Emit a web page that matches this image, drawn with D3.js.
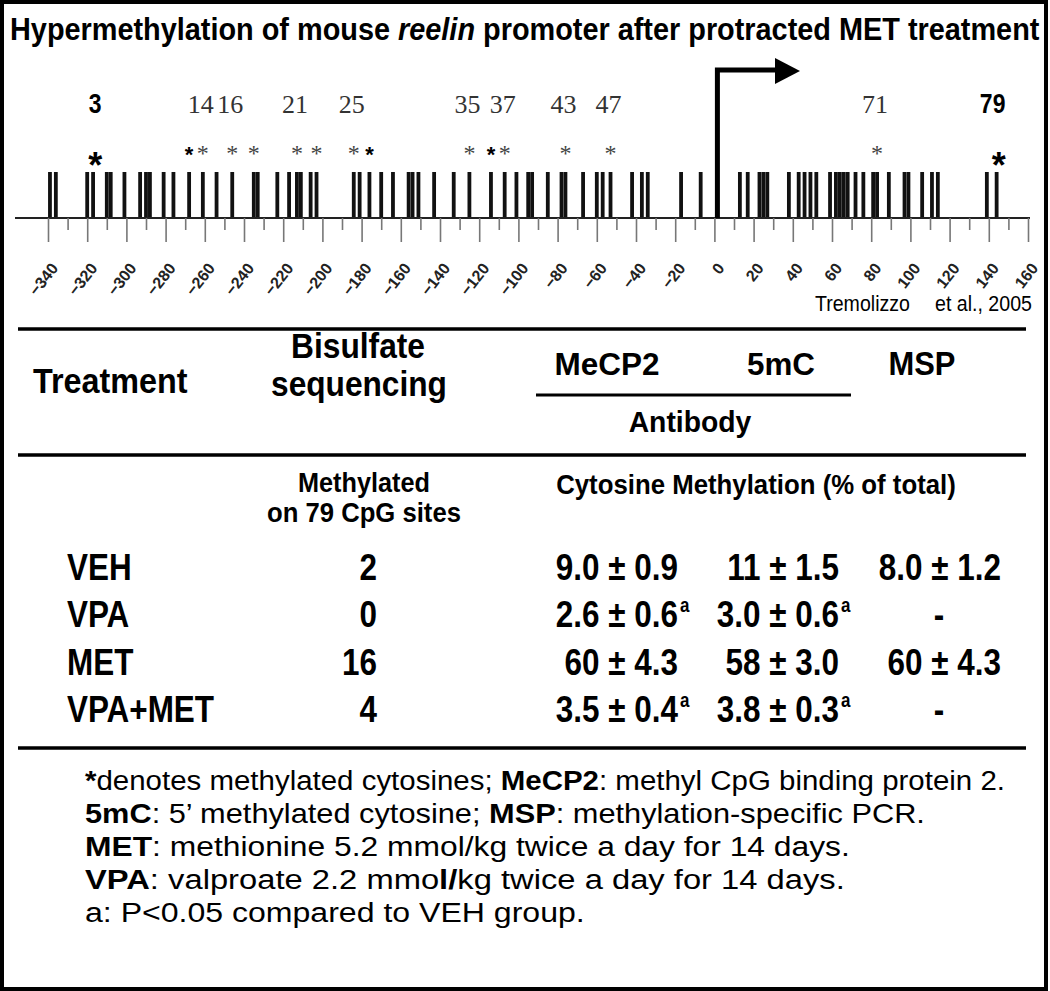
<!DOCTYPE html>
<html>
<head>
<meta charset="utf-8">
<script src="https://cdn.jsdelivr.net/npm/d3@7"></script>
<style>
  html, body { margin: 0; padding: 0; background: #fff; }
  svg { display: block; }
</style>
</head>
<body>
<svg id="fig" width="1050" height="991"></svg>
<script>
// ---------------- DATA ----------------
// CpG site positions (bp relative to transcription start), 79 sites
const cpgSites = [-339,-336,-320,-317,-310,-308,-301,-293,-290,-288,-281,-276,-268,-261,-254,-246,-235,-233,-223,-217,
  -213,-211,-206,-203,-184,-181,-176,-170,-164,-156,-154,-151,-143,-133,-125,-114,-107,-101,-95,-93,
  -85,-78,-76,-67,-60,-57,-53,-42,-37,-34,-17,-7,13,17,23,25,27,38,43,46,
  49,52,59,62,64,66,68,72,76,81,83,89,97,99,106,111,114,139,144];
// methylated CpG sites (site number, 1-based) after MET
const methylatedSites = [3,13,14,16,17,21,24,25,27,35,36,37,43,47,71,79];
const boldStarsLarge = [3,79];
const boldStarsSmall = [13,27,36];
const labelledSites = [3,14,16,21,25,35,37,43,47,71,79];
const boldLabels = [3,79];
const axisMajorTicks = d3.range(-340, 161, 20);
const axisMinorTicks = d3.range(-330, 160, 20);
const tssPosition = 0;

// table
const treatments = ["VEH","VPA","MET","VPA+MET"];
const bisulfiteMethylated = ["2","0","16","4"];
const mecp2Values = ["9.0 ± 0.9","2.6 ± 0.6","60 ± 4.3","3.5 ± 0.4"];
const mecp2Significant = [false,true,false,true];
const fiveMCValues = ["11 ± 1.5","3.0 ± 0.6","58 ± 3.0","3.8 ± 0.3"];
const fiveMCSignificant = [false,true,false,true];
const mspValues = ["8.0 ± 1.2","-","60 ± 4.3","-"];

const notes = [
  [["*",1],["denotes methylated cytosines; ",0],["MeCP2",1],[": methyl CpG binding protein 2.",0]],
  [["5mC",1],[": 5’ methylated cytosine; ",0],["MSP",1],[": methylation-specific PCR.",0]],
  [["MET",1],[": methionine 5.2 mmol/kg twice a day for 14 days.",0]],
  [["VPA",1],[": valproate 2.2 mmo",0],["l/",1],["kg twice a day for 14 days.",0]],
  [["a: P<0.05 compared to VEH group.",0]]
];

// ---------------- DRAW ----------------
const svg = d3.select("#fig");
const SANS = "'Liberation Sans', Arial, sans-serif";
const SERIF = "'Liberation Serif', 'Times New Roman', serif";

function fit(sel, w) {
  sel.each(function() {
    const bb = this.getBBox();
    const k = w / bb.width;
    const x = +this.getAttribute("x") || 0;
    this.setAttribute("transform", `translate(${x},0) scale(${k},1) translate(${-x},0)`);
  });
  return sel;
}
function condense(sel, k) {
  sel.each(function() {
    const x = +this.getAttribute("x") || 0;
    this.setAttribute("transform", `translate(${x},0) scale(${k},1) translate(${-x},0)`);
  });
  return sel;
}

// border
svg.append("rect").attr("x", 2).attr("y", 2).attr("width", 1044).attr("height", 987)
  .attr("fill", "none").attr("stroke", "#000").attr("stroke-width", 4);

// title
const title = svg.append("text").attr("x", 10).attr("y", 40)
  .attr("font-family", SANS).attr("font-weight", "bold").attr("font-size", 31).attr("fill", "#000");
title.append("tspan").text("Hypermethylation of mouse ");
title.append("tspan").attr("font-style", "italic").text("reelin");
title.append("tspan").text(" promoter after protracted MET treatment");
fit(title, 1030);

// ---- promoter map ----
const x = d3.scaleLinear().domain([-340, 160]).range([48, 1028]);
const axisY = 218;
const barTop = 172;
const barW = 3.8;

svg.append("g").selectAll("rect").data(cpgSites).join("rect")
  .attr("x", d => x(d) - barW / 2).attr("y", barTop)
  .attr("width", barW).attr("height", axisY - barTop)
  .attr("fill", "#111");

svg.append("line").attr("x1", 15).attr("x2", 1030).attr("y1", axisY).attr("y2", axisY)
  .attr("stroke", "#222").attr("stroke-width", 2);

const minorAxis = svg.append("g").attr("transform", `translate(0,${axisY})`)
  .call(d3.axisBottom(x).tickValues(axisMinorTicks).tickSize(12).tickSizeOuter(0).tickFormat(""));
minorAxis.select(".domain").remove();
minorAxis.selectAll(".tick line").attr("stroke", "#777").attr("stroke-width", 1.6);

const majorAxis = svg.append("g").attr("transform", `translate(0,${axisY})`)
  .call(d3.axisBottom(x).tickValues(axisMajorTicks).tickSize(24).tickSizeOuter(0).tickFormat(d3.format("d")));
majorAxis.select(".domain").remove();
majorAxis.selectAll(".tick line").attr("stroke", "#777").attr("stroke-width", 1.6);
majorAxis.selectAll(".tick text")
  .attr("x", 0).attr("y", 0).attr("dy", "0.35em")
  .attr("transform", "translate(6,47) rotate(-52)")
  .attr("text-anchor", "end")
  .attr("font-family", SANS).attr("font-weight", "bold").attr("font-size", 16).attr("fill", "#222");

// transcription start arrow
const tx = x(tssPosition) + 3;
svg.append("path")
  .attr("d", `M${tx},${axisY} V70 H777`)
  .attr("fill", "none").attr("stroke", "#000").attr("stroke-width", 5);
svg.append("path")
  .attr("d", `M775,58 L800,71 L775,84 Z`).attr("fill", "#000");

// stars
const starG = svg.append("g");
methylatedSites.forEach(s => {
  const px = x(cpgSites[s - 1]);
  if (boldStarsLarge.includes(s)) {
    starG.append("text").attr("x", px + (s === 3 ? 8 : 2)).attr("y", 178).attr("text-anchor", "middle")
      .attr("font-family", SANS).attr("font-weight", "bold").attr("font-size", 36).attr("fill", "#000").text("*");
  } else if (boldStarsSmall.includes(s)) {
    starG.append("text").attr("x", px).attr("y", 162).attr("text-anchor", "middle")
      .attr("font-family", SANS).attr("font-weight", "bold").attr("font-size", 22).attr("fill", "#000").text("*");
  } else {
    starG.append("text").attr("x", px).attr("y", 161).attr("text-anchor", "middle")
      .attr("font-family", SERIF).attr("font-size", 24).attr("fill", "#444").text("*");
  }
});

// site number labels
labelledSites.forEach(s => {
  const px = x(cpgSites[s - 1]);
  if (boldLabels.includes(s)) {
    const t = svg.append("text").attr("x", px + (s === 3 ? 8 : -4)).attr("y", 113).attr("text-anchor", "middle")
      .attr("font-family", SANS).attr("font-weight", "bold").attr("font-size", 28).attr("fill", "#000").text(String(s));
    condense(t, 0.82);
  } else {
    svg.append("text").attr("x", px - 2).attr("y", 113).attr("text-anchor", "middle")
      .attr("font-family", SERIF).attr("font-size", 26).attr("fill", "#333").text(String(s));
  }
});

// citation
fit(svg.append("text").attr("x", 815).attr("y", 311).attr("font-family", SANS).attr("font-size", 22)
  .attr("fill", "#000").text("Tremolizzo"), 95);
fit(svg.append("text").attr("x", 935).attr("y", 311).attr("font-family", SANS).attr("font-size", 22)
  .attr("fill", "#000").text("et al., 2005"), 97);

// ---- table ----
function hline(y, x1, x2, w) {
  svg.append("line").attr("x1", x1).attr("x2", x2).attr("y1", y).attr("y2", y)
    .attr("stroke", "#000").attr("stroke-width", w);
}
hline(329, 18, 1026, 3.5);
hline(395, 536, 851, 3);
hline(455, 18, 1026, 3.5);
hline(748, 18, 1026, 3.5);

function boldText(xp, yp, txt, size, anchor) {
  return svg.append("text").attr("x", xp).attr("y", yp).attr("text-anchor", anchor || "start")
    .attr("font-family", SANS).attr("font-weight", "bold").attr("font-size", size).attr("fill", "#000").text(txt);
}
fit(boldText(33, 393, "Treatment", 35), 155);
fit(boldText(358, 358, "Bisulfate", 35, "middle"), 134);
fit(boldText(359, 396, "sequencing", 35, "middle"), 176);
fit(boldText(607, 375, "MeCP2", 32, "middle"), 105);
fit(boldText(781, 375, "5mC", 32, "middle"), 68);
fit(boldText(922, 375, "MSP", 34, "middle"), 67);
fit(boldText(690, 432, "Antibody", 30, "middle"), 123);
fit(boldText(364, 492, "Methylated", 28, "middle"), 132);
fit(boldText(364, 522, "on 79 CpG sites", 28, "middle"), 194);
fit(boldText(756, 494, "Cytosine Methylation (% of total)", 28, "middle"), 400);

const rowY = d3.scalePoint().domain(treatments).range([580, 722]);
const K = 0.85;
treatments.forEach((t, i) => {
  const y = rowY(t);
  condense(boldText(67, y, t, 37), K);
  condense(boldText(377, y, bisulfiteMethylated[i], 37, "end"), K);
  condense(boldText(678, y, mecp2Values[i], 37, "end"), K);
  if (mecp2Significant[i]) condense(boldText(680, y - 15, "a", 20), K);
  condense(boldText(839, y, fiveMCValues[i], 37, "end"), K);
  if (fiveMCSignificant[i]) condense(boldText(841, y - 15, "a", 20), K);
  if (mspValues[i] === "-") condense(boldText(939, y, "-", 37, "middle"), K);
  else condense(boldText(1001, y, mspValues[i], 37, "end"), K);
});

// ---- footnotes ----
const noteY = [790, 823, 856, 889, 922];
const noteW = [920, 840, 765, 760, 500];
notes.forEach((parts, i) => {
  const t = svg.append("text").attr("x", 85).attr("y", noteY[i])
    .attr("font-family", SANS).attr("font-size", 27).attr("fill", "#000");
  parts.forEach(p => {
    const ts = t.append("tspan").text(p[0]);
    if (p[1]) ts.attr("font-weight", "bold");
  });
  fit(t, noteW[i]);
});
</script>
</body>
</html>
